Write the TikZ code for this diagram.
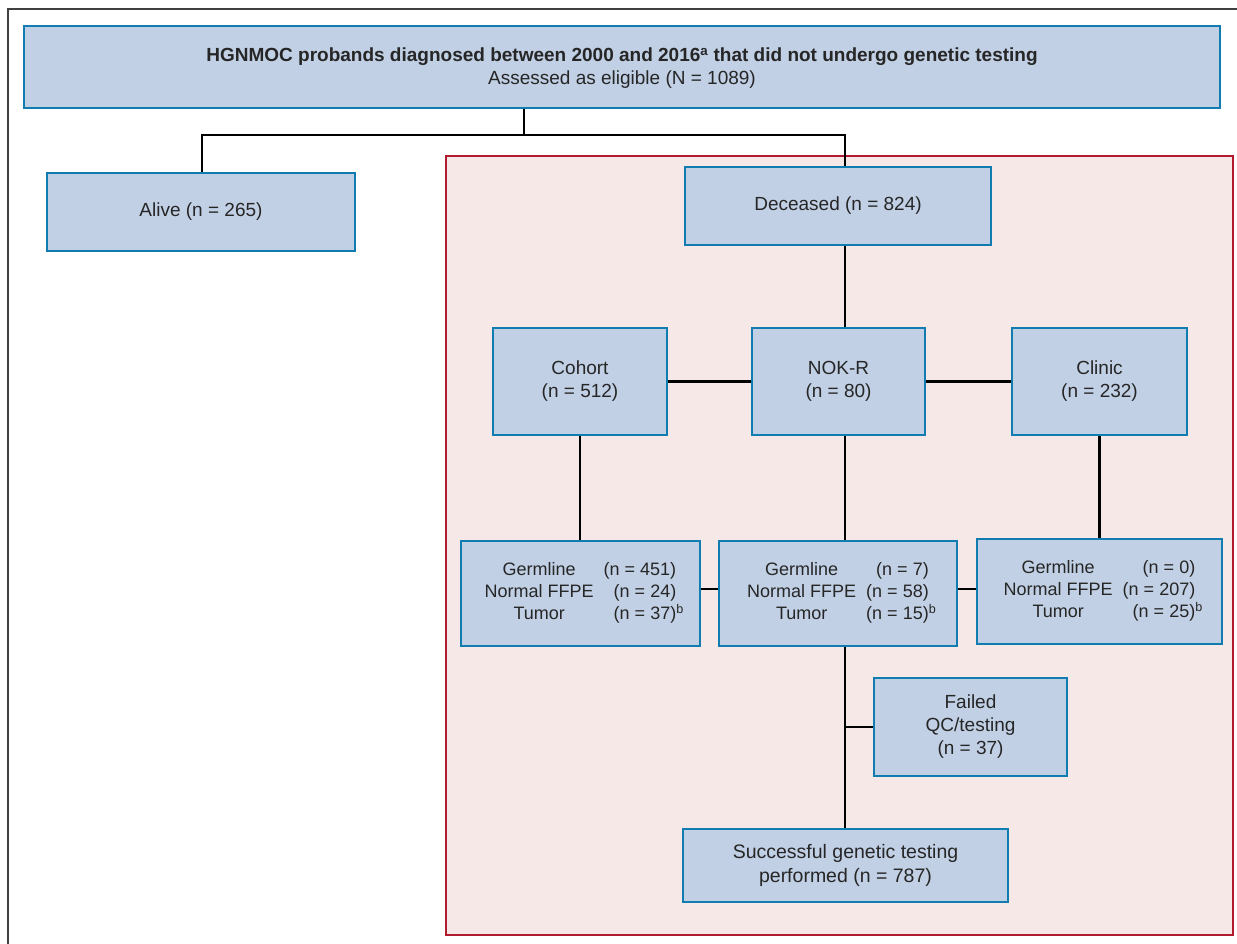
\documentclass[tikz,border=0pt]{standalone}
\usepackage{fontspec}
\setmainfont{Liberation Sans}
\definecolor{boxfill}{RGB}{193,208,229}
\definecolor{boxdraw}{RGB}{16,124,176}
\definecolor{redline}{RGB}{178,26,48}
\definecolor{redfill}{RGB}{246,232,230}
\begin{document}
\begin{tikzpicture}[x=1pt,y=-1pt,
  flowbox/.style={draw=boxdraw,fill=boxfill,line width=2pt,inner sep=0pt,align=center,
    font=\fontsize{19}{23}\selectfont,text=black!85},
  tabbox/.style={flowbox,font=\fontsize{18}{22}\selectfont},
  lowbox/.style={flowbox,font=\fontsize{19.5}{23.5}\selectfont},
  conn/.style={draw=black,line width=2.6pt,line join=miter}]
\useasboundingbox (0,0) rectangle (1237,944);
% outer frame (top and left edges)
\draw[line width=1.5pt,draw=black!75] (8,944) -- (8,9) -- (1237,9);
% highlighted region
\draw[draw=redline,fill=redfill,line width=2.5pt] (446,156) rectangle (1233,935);
\coordinate (spine) at (845,0);
\coordinate (split) at (524,135);
% nodes
\node[flowbox,minimum width=1196pt,minimum height=82pt,text depth=1pt] (top) at (622,67)
  {\textbf{HGNMOC probands diagnosed between 2000 and 2016\textsuperscript{a} that did not undergo genetic testing}\\Assessed as eligible (N = 1089)};
\node[flowbox,minimum width=308pt,minimum height=78pt] (alive) at (201,212) {Alive (n = 265)};
\node[flowbox,minimum width=306pt,minimum height=78pt] (deceased) at (838,206) {Deceased (n = 824)};
\node[flowbox,minimum width=174pt,minimum height=107pt] (cohort) at (580,381.5) {Cohort\\(n = 512)};
\node[flowbox,minimum width=173pt,minimum height=107pt] (nokr) at (838.5,381.5) {NOK-R\\(n = 80)};
\node[flowbox,minimum width=175pt,minimum height=107pt] (clinic) at (1099.5,381.5) {Clinic\\(n = 232)};
\node[tabbox,minimum width=239pt,minimum height=105pt] (g1) at (580.5,593.5)
  {\setlength{\tabcolsep}{5pt}\begin{tabular}{@{}cr@{}}Germline & (n = 451)\\Normal FFPE & (n = 24)\\Tumor & (n = 37)\rlap{\textsuperscript{b}}\end{tabular}};
\node[tabbox,minimum width=238pt,minimum height=105pt] (g2) at (838,593.5)
  {\setlength{\tabcolsep}{5pt}\begin{tabular}{@{}cr@{}}Germline & (n = 7)\\Normal FFPE & (n = 58)\\Tumor & (n = 15)\rlap{\textsuperscript{b}}\end{tabular}};
\node[tabbox,minimum width=245pt,minimum height=105pt] (g3) at (1099.5,591.5)
  {\setlength{\tabcolsep}{5pt}\begin{tabular}{@{}cr@{}}Germline & (n = 0)\\Normal FFPE & (n = 207)\\Tumor & (n = 25)\rlap{\textsuperscript{b}}\end{tabular}};
\node[flowbox,minimum width=193pt,minimum height=98pt] (failed) at (970.5,727) {Failed\\QC/testing\\(n = 37)};
\node[lowbox,minimum width=325pt,minimum height=73pt] (success) at (845.5,865.5) {Successful genetic testing\\performed (n = 787)};
% connectors
\draw[conn] (top.south -| split) -- (split);
\draw[conn] (alive.north -| 202,0) |- (split) -| (deceased.north -| spine);
\draw[conn] (deceased.south -| spine) -- (nokr.north -| spine);
\draw[conn] (cohort.east) -- (nokr.west);
\draw[conn] (nokr.east) -- (clinic.west);
\draw[conn] (cohort.south) -- (g1.north -| cohort.south);
\draw[conn] (nokr.south -| spine) -- (g2.north -| spine);
\draw[conn] (clinic.south) -- (g3.north -| clinic.south);
\draw[conn] (g1.east |- 0,589) -- (g2.west |- 0,589);
\draw[conn] (g2.east |- 0,589) -- (g3.west |- 0,589);
\draw[conn] (g2.south -| spine) -- (success.north -| spine);
\draw[conn] (failed.west -| spine) -- (failed.west);
\end{tikzpicture}
\end{document}
